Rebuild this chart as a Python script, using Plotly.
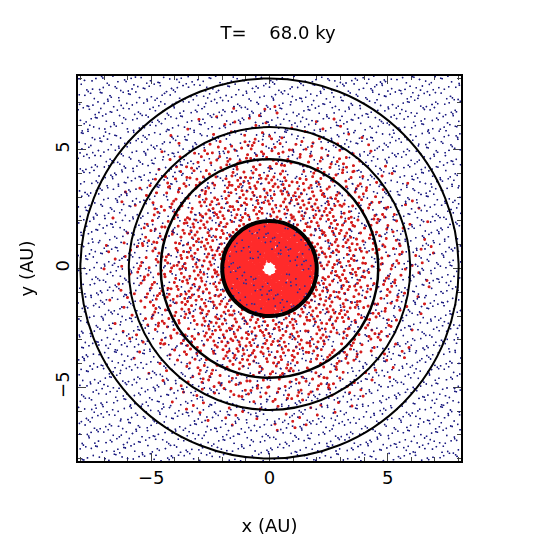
import plotly.graph_objects as go

# particle populations: (r_inner, r_outer, count, colour, size)
band_rin = [0.3, 2.0, 4.0, 5.6, 0.6, 2.0, 5.6]
band_rout = [1.95, 4.0, 5.6, 7.0, 1.95, 5.6, 11.5]
band_count = [1700, 700, 550, 180, 120, 900, 2600]
band_color = ["#ff2a2a", "#d41c1c", "#d41c1c", "#d41c1c", "#2a2a9a", "#1a1a80", "#1a1a80"]
band_size = [4, 3, 3, 3, 2, 1.8, 2]

# ring radii (AU) and line widths
ring_r = [2.0, 4.6, 5.95, 8.0]
ring_w = [4, 2.5, 2, 2]

title = "T=    68.0 ky"


def halton(i, b):
    f, r = 1.0, 0.0
    while i > 0:
        f /= b
        r += f * (i % b)
        i //= b
    return r


def fill_band(r0, r1, n, bases, offset):
    # low-discrepancy filling of the plot square, kept in the annulus
    xs, ys = [], []
    i = offset
    while len(xs) < n and i < offset + n * 60:
        x = halton(i, bases[0]) * 16.2 - 8.1
        y = halton(i, bases[1]) * 16.2 - 8.1
        if r0 ** 2 <= x * x + y * y <= r1 ** 2:
            xs.append(x)
            ys.append(y)
        i += 1
    return xs, ys


base_pairs = [(2, 3), (5, 7), (3, 5), (7, 11), (11, 13), (2, 5), (3, 7)]

fig = go.Figure()
for k in [3, 2, 1, 0, 4, 5, 6]:
    xs, ys = fill_band(band_rin[k], band_rout[k], band_count[k], base_pairs[k], 17 + 977 * k)
    fig.add_trace(go.Scattergl(x=xs, y=ys, mode="markers",
                               marker=dict(color=band_color[k], size=band_size[k]),
                               showlegend=False, hoverinfo="skip"))

for r, w in zip(ring_r, ring_w):
    fig.add_shape(type="circle", x0=-r, y0=-r, x1=r, y1=r,
                  line=dict(color="black", width=w), layer="above")

font = dict(size=18, color="black", family="DejaVu Sans")
axis = dict(range=[-8.1, 8.1], showgrid=False, zeroline=False, mirror="allticks",
            showline=True, linecolor="black", linewidth=1.5, ticks="inside",
            ticklen=8, tickvals=[-5, 0, 5], ticktext=["\u22125", "0", "5"],
            minor=dict(ticks="inside", ticklen=4, dtick=1),
            tickfont=font, automargin=False)

fig.update_layout(
    width=540, height=539, plot_bgcolor="white", paper_bgcolor="white",
    margin=dict(l=70, r=87, t=68, b=86, autoexpand=False),
    title=dict(text=title, x=0.5, y=0.965, xanchor="center", font=font),
    xaxis=dict(axis, title=dict(text="x (AU)", font=font, standoff=32)),
    yaxis=dict(axis, tickangle=-90, title=dict(text="y (AU)", font=font, standoff=14)),
)

fig.write_html("out.html")
